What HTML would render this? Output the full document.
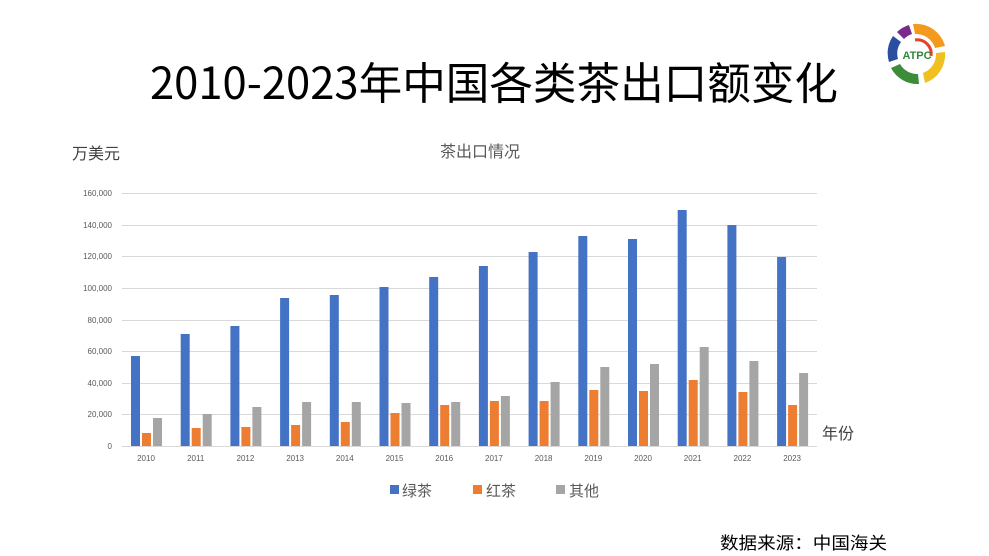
<!DOCTYPE html>
<html><head><meta charset="utf-8"><style>
html,body{margin:0;padding:0;background:#fff;}
svg{display:block;font-family:"Liberation Sans","Noto Sans CJK SC",sans-serif;}
</style></head><body>
<svg width="989" height="556" viewBox="0 0 989 556" xmlns="http://www.w3.org/2000/svg">
<rect width="989" height="556" fill="#fff"/>
<text x="150" y="99" font-size="44" fill="#000" textLength="688" lengthAdjust="spacingAndGlyphs" font-family="Noto Sans CJK SC, sans-serif">2010-2023年中国各类茶出口额变化</text>
<!-- logo -->
<g transform="translate(917,54)">
<path d="M-4,-30 A30,30 0 0,1 28,-8 L18,-6 A20,20 0 0,0 -2,-20 Z" fill="#f39a1e"/>
<path d="M28,-2 A30,30 0 0,1 8,29 L6,19 A20,20 0 0,0 19,-1 Z" fill="#f0c020"/>
<path d="M2,30 A30,30 0 0,1 -26,14 L-17,10 A20,20 0 0,0 1,20 Z" fill="#3d8c3a"/>
<path d="M-28,8 A30,30 0 0,1 -24,-18 L-16,-12 A20,20 0 0,0 -19,5 Z" fill="#2a4fa0"/>
<path d="M-20,-22 A30,30 0 0,1 -8,-29 L-5,-20 A20,20 0 0,0 -13,-15 Z" fill="#7a2a8a"/>
<path d="M-2,-14 A14,14 0 0,1 14,2" fill="none" stroke="#e8412a" stroke-width="3"/>
<text x="0" y="5" font-size="11" font-weight="bold" fill="#2f8a3a" text-anchor="middle">ATPC</text>
</g>
<text x="72" y="159" font-size="16" fill="#404040">万美元</text>
<text x="480" y="157" font-size="16" fill="#595959" text-anchor="middle">茶出口情况</text>
<text x="822" y="439" font-size="16" fill="#404040">年份</text>
<g stroke="#d9d9d9" stroke-width="1">
<line x1="122" x2="817" y1="193.5" y2="193.5"/><line x1="122" x2="817" y1="225.5" y2="225.5"/>
<line x1="122" x2="817" y1="256.5" y2="256.5"/><line x1="122" x2="817" y1="288.5" y2="288.5"/>
<line x1="122" x2="817" y1="320.5" y2="320.5"/><line x1="122" x2="817" y1="351.5" y2="351.5"/>
<line x1="122" x2="817" y1="383.5" y2="383.5"/><line x1="122" x2="817" y1="414.5" y2="414.5"/>
<line x1="122" x2="817" y1="446.5" y2="446.5"/>
</g>
<g font-size="8" fill="#595959" text-anchor="end">
<text x="112" y="196">160,000</text><text x="112" y="228">140,000</text><text x="112" y="259">120,000</text>
<text x="112" y="291">100,000</text><text x="112" y="323">80,000</text><text x="112" y="354">60,000</text>
<text x="112" y="386">40,000</text><text x="112" y="417">20,000</text><text x="112" y="449">0</text>
</g>
<g fill="#4472c4">
<rect x="131" y="356" width="9" height="90"/><rect x="180.7" y="334" width="9" height="112"/>
<rect x="230.4" y="326" width="9" height="120"/><rect x="280.1" y="298" width="9" height="148"/>
<rect x="329.8" y="295" width="9" height="151"/><rect x="379.5" y="287" width="9" height="159"/>
<rect x="429.2" y="277" width="9" height="169"/><rect x="478.9" y="266" width="9" height="180"/>
<rect x="528.6" y="252" width="9" height="194"/><rect x="578.3" y="236" width="9" height="210"/>
<rect x="628" y="239" width="9" height="207"/><rect x="677.7" y="210" width="9" height="236"/>
<rect x="727.4" y="225" width="9" height="221"/><rect x="777.1" y="257" width="9" height="189"/>
</g>
<g fill="#ed7d31">
<rect x="142" y="433" width="9" height="13"/><rect x="191.7" y="428" width="9" height="18"/>
<rect x="241.4" y="427" width="9" height="19"/><rect x="291.1" y="425" width="9" height="21"/>
<rect x="340.8" y="422" width="9" height="24"/><rect x="390.5" y="413" width="9" height="33"/>
<rect x="440.2" y="405" width="9" height="41"/><rect x="489.9" y="401" width="9" height="45"/>
<rect x="539.6" y="401" width="9" height="45"/><rect x="589.3" y="390" width="9" height="56"/>
<rect x="639" y="391" width="9" height="55"/><rect x="688.7" y="380" width="9" height="66"/>
<rect x="738.4" y="392" width="9" height="54"/><rect x="788.1" y="405" width="9" height="41"/>
</g>
<g fill="#a5a5a5">
<rect x="153" y="418" width="9" height="28"/><rect x="202.7" y="414" width="9" height="32"/>
<rect x="252.4" y="407" width="9" height="39"/><rect x="302.1" y="402" width="9" height="44"/>
<rect x="351.8" y="402" width="9" height="44"/><rect x="401.5" y="403" width="9" height="43"/>
<rect x="451.2" y="402" width="9" height="44"/><rect x="500.9" y="396" width="9" height="50"/>
<rect x="550.6" y="382" width="9" height="64"/><rect x="600.3" y="367" width="9" height="79"/>
<rect x="650" y="364" width="9" height="82"/><rect x="699.7" y="347" width="9" height="99"/>
<rect x="749.4" y="361" width="9" height="85"/><rect x="799.1" y="373" width="9" height="73"/>
</g>
<g font-size="8" fill="#595959" text-anchor="middle">
<text x="146" y="461">2010</text><text x="195.7" y="461">2011</text><text x="245.4" y="461">2012</text>
<text x="295.1" y="461">2013</text><text x="344.8" y="461">2014</text><text x="394.5" y="461">2015</text>
<text x="444.2" y="461">2016</text><text x="493.9" y="461">2017</text><text x="543.6" y="461">2018</text>
<text x="593.3" y="461">2019</text><text x="643" y="461">2020</text><text x="692.7" y="461">2021</text>
<text x="742.4" y="461">2022</text><text x="792.1" y="461">2023</text>
</g>
<rect x="390" y="485" width="9" height="9" fill="#4472c4"/>
<text x="402" y="496" font-size="15" fill="#595959">绿茶</text>
<rect x="473" y="485" width="9" height="9" fill="#ed7d31"/>
<text x="486" y="496" font-size="15" fill="#595959">红茶</text>
<rect x="556" y="485" width="9" height="9" fill="#a5a5a5"/>
<text x="569" y="496" font-size="15" fill="#595959">其他</text>
<text x="720" y="549" font-size="17" fill="#000" textLength="167" lengthAdjust="spacingAndGlyphs">数据来源：中国海关</text>
</svg>
</body></html>
